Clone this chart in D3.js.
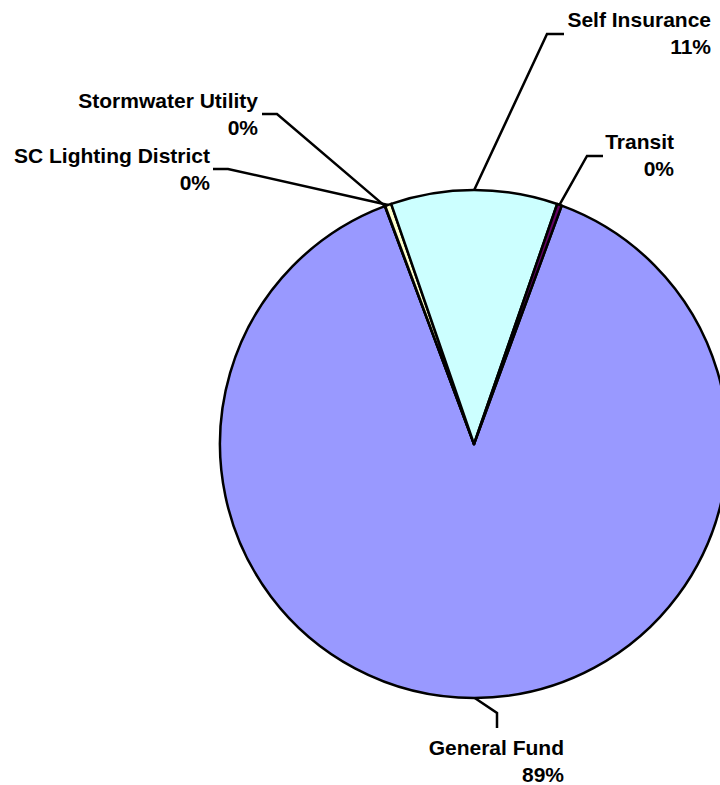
<!DOCTYPE html>
<html>
<head>
<meta charset="utf-8">
<script src="https://cdn.jsdelivr.net/npm/d3@7"></script>
<style>
  body { margin: 0; background: #ffffff; }
  svg text { font-family: "Liberation Sans", Arial, sans-serif; font-weight: bold; }
</style>
</head>
<body>
<div id="chart"></div>
<script>
// slice data, in chart order (clockwise)
const categories = ["General Fund", "Stormwater Utility", "SC Lighting District", "Self Insurance", "Transit"];
const values = [88.7, 0.02, 0.4, 10.6, 0.3];
const percentLabels = ["89%", "0%", "0%", "11%", "0%"];
const colors = ["#9999ff", "#993366", "#ffffcc", "#ccffff", "#660066"];

// where each label sits: right edge of text, first baseline, leader elbow and end
const labelLayout = {
    "General Fund":         {x: 564, y: 755, elbow: [497, 713], end: [497, 728]},
    "Stormwater Utility":   {x: 258, y: 108, elbow: [277, 114], end: [262, 114]},
    "SC Lighting District": {x: 210, y: 163, elbow: [228, 169], end: [213, 169]},
    "Self Insurance":       {x: 711, y: 27,  elbow: [547, 34],  end: [564, 34]},
    "Transit":              {x: 674, y: 149, elbow: [587, 156], end: [603, 156]}
};

const width = 720, height = 785;
const cx = 474, cy = 444, radius = 254;
const startDeg = 20.2;

const svg = d3.select("#chart").append("svg")
    .attr("width", width)
    .attr("height", height);

const data = categories.map((c, i) => ({name: c, value: values[i], pct: percentLabels[i], color: colors[i]}));

const pie = d3.pie()
    .sort(null)
    .value(d => d.value)
    .startAngle(startDeg * Math.PI / 180)
    .endAngle(startDeg * Math.PI / 180 + 2 * Math.PI);

const arcs = pie(data);

const arc = d3.arc()
    .innerRadius(0)
    .outerRadius(radius);

const g = svg.append("g")
    .attr("transform", `translate(${cx},${cy})`);

g.selectAll("path.slice")
    .data(arcs)
    .enter().append("path")
    .attr("class", "slice")
    .attr("d", arc)
    .style("fill", d => d.data.color)
    .style("stroke", "#000000")
    .style("stroke-width", "2.5px")
    .style("stroke-linejoin", "round");

// leader lines and labels
arcs.forEach(function (d) {
    const lay = labelLayout[d.data.name];
    const mid = (d.startAngle + d.endAngle) / 2;
    const sx = cx + radius * Math.sin(mid);
    const sy = cy - radius * Math.cos(mid);
    svg.append("polyline")
        .attr("points", `${sx},${sy} ${lay.elbow[0]},${lay.elbow[1]} ${lay.end[0]},${lay.end[1]}`)
        .style("fill", "none")
        .style("stroke", "#000000")
        .style("stroke-width", "2.5px");

    const t = svg.append("text")
        .attr("text-anchor", "end")
        .style("font-size", "21px")
        .style("fill", "#000000");
    t.append("tspan").attr("x", lay.x).attr("y", lay.y).text(d.data.name);
    t.append("tspan").attr("x", lay.x).attr("y", lay.y + 27).text(d.data.pct);
});
</script>
</body>
</html>
